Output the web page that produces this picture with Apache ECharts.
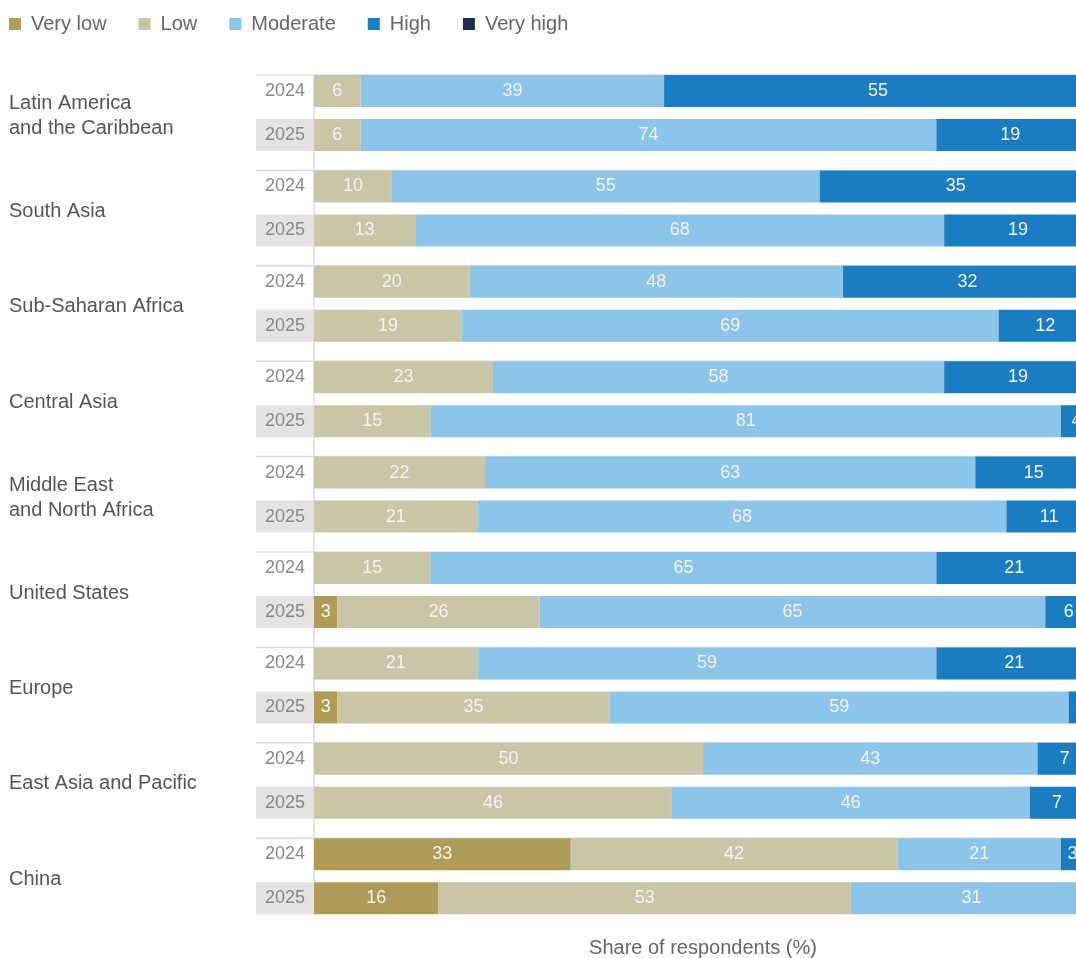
<!DOCTYPE html>
<html>
<head>
<meta charset="utf-8">
<title>Share of respondents</title>
<script src="https://cdn.jsdelivr.net/npm/echarts@6/dist/echarts.min.js"></script>
<style>
  html, body { margin: 0; height: 100%; background: #fff; }
  #main { width: 1076px; height: 958px; }
</style>
</head>
<body>
<div id="main"></div>
<script>
// data, rows ordered region by region: 2024 then 2025
var regions = ['Latin America\nand the Caribbean', 'South Asia', 'Sub-Saharan Africa', 'Central Asia',
  'Middle East\nand North Africa', 'United States', 'Europe', 'East Asia and Pacific', 'China'];
var years = ['2024', '2025'];
var levels = ['Very low', 'Low', 'Moderate', 'High', 'Very high'];
var veryLow  = [0, 0,  0, 0,  0, 0,  0, 0,  0, 0,  0, 3,  0, 3,  0, 0, 33, 16];
var low      = [6, 6, 10, 13, 20, 19, 23, 15, 22, 21, 15, 26, 21, 35, 50, 46, 42, 53];
var moderate = [39, 74, 55, 68, 48, 69, 58, 81, 63, 68, 65, 65, 59, 59, 43, 46, 21, 31];
var high     = [55, 19, 35, 19, 32, 12, 19, 4, 15, 11, 21, 6, 21, 3, 7, 7, 3, 0];
var veryHigh = [0, 0, 0, 0, 0, 0, 0, 0, 0, 0, 0, 0, 0, 0, 0, 0, 0, 0];

var seriesValues = [veryLow, low, moderate, high, veryHigh];
var colors = ['#af9b58', '#c9c5a7', '#8cc4ea', '#1a7dc2', '#1c2d53'];

var font = 'Liberation Sans, Arial, sans-serif';
var top0 = 69, step = 95.4, gridH = 88, plotLeft = 314, plotWidth = 778;

var grids = [], xAxes = [], yAxes = [], series = [], graphics = [];

regions.forEach(function (name, i) {
  var top = top0 + i * step;
  grids.push({ left: plotLeft, width: plotWidth, top: top, height: gridH, containLabel: false, outerBoundsMode: 'none' });
  var last = i === regions.length - 1;
  xAxes.push({
    gridIndex: i, type: 'value', min: 0, max: 100, show: last,
    axisLine: { show: false }, axisTick: { show: false }, axisLabel: { show: false }, splitLine: { show: false },
    name: last ? 'Share of respondents (%)' : '', nameLocation: 'middle', nameGap: 18,
    nameTextStyle: { fontFamily: font, fontSize: 20, color: '#666' }
  });
  yAxes.push({
    gridIndex: i, type: 'category', data: years, inverse: true,
    axisLine: { show: false }, axisTick: { show: false }, splitLine: { show: false },
    axisLabel: {
      margin: 0,
      formatter: function (v) { return v === '2025' ? '{b|' + v + '}' : '{a|' + v + '}'; },
      rich: {
        a: { width: 58, height: 32, lineHeight: 32, align: 'center', fontSize: 18, color: '#888', fontFamily: font },
        b: { width: 58, height: 32, lineHeight: 32, align: 'center', fontSize: 18, color: '#888', fontFamily: font, backgroundColor: '#e3e3e3' }
      }
    }
  });
  levels.forEach(function (lvl, k) {
    series.push({
      name: lvl, type: 'bar', stack: 'g' + i, xAxisIndex: i, yAxisIndex: i,
      barWidth: 32, itemStyle: { color: colors[k] },
      data: seriesValues[k].slice(i * 2, i * 2 + 2),
      label: {
        show: true, position: 'inside', color: '#f3f3f3', fontSize: 18, fontFamily: font,
        formatter: function (p) { return p.value > 0 ? p.value : ''; }
      }
    });
  });
  // group separator line and region label
  graphics.push({
    type: 'line', z: 0,
    shape: { x1: 256, y1: top + 6, x2: 1076, y2: top + 6 },
    style: { stroke: '#dcdcdc', lineWidth: 1.5 }
  });
  graphics.push({
    type: 'text', left: 9, top: top + gridH / 2 + 3 - (name.indexOf('\n') > -1 ? 25 : 12.5),
    style: { text: name, fontFamily: font, fontSize: 20, lineHeight: 25, fill: '#555' }
  });
});

graphics.push({
  type: 'line', z: 0,
  shape: { x1: plotLeft, y1: top0 + 6, x2: plotLeft, y2: top0 + 8 * step + 80 },
  style: { stroke: '#dcdcdc', lineWidth: 1.5 }
});

var chart = echarts.init(document.getElementById('main'));
chart.setOption({
  animation: false,
  backgroundColor: '#fff',
  legend: {
    data: levels, left: 4, top: 9, icon: 'rect', itemWidth: 12, itemHeight: 12, itemGap: 32,
    textStyle: { fontFamily: font, fontSize: 20, color: '#666', padding: [0, 0, 0, 5] }
  },
  grid: grids,
  xAxis: xAxes,
  yAxis: yAxes,
  series: series,
  graphic: graphics
});
</script>
</body>
</html>
